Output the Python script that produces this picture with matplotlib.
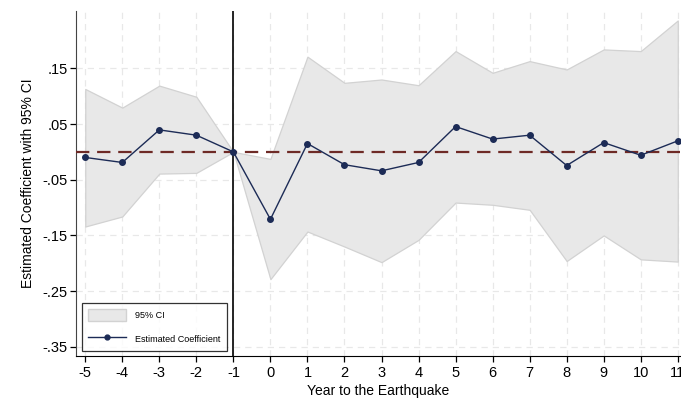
import matplotlib
matplotlib.use("Agg")
import matplotlib.pyplot as plt
from matplotlib.patches import Patch
from matplotlib.lines import Line2D

years = [-5, -4, -3, -2, -1, 0, 1, 2, 3, 4, 5, 6, 7, 8, 9, 10, 11]
coef = [-0.010, -0.019, 0.0395, 0.030, 0.0, -0.121, 0.015, -0.023, -0.034, -0.019,
        0.0455, 0.023, 0.030, -0.0245, 0.0167, -0.006, 0.0198]
ci_upper = [0.113, 0.0795, 0.119, 0.099, 0.0, -0.0126, 0.171, 0.124, 0.130, 0.1197,
            0.181, 0.142, 0.163, 0.148, 0.184, 0.181, 0.236]
ci_lower = [-0.134, -0.116, -0.039, -0.0377, 0.0, -0.2286, -0.143, -0.170, -0.198, -0.158,
            -0.091, -0.095, -0.104, -0.196, -0.150, -0.193, -0.197]
yticks = [0.15, 0.05, -0.05, -0.15, -0.25, -0.35]
ytick_labels = [".15", ".05", "-.05", "-.15", "-.25", "-.35"]

plt.rcParams['font.family'] = ['Liberation Sans', 'DejaVu Sans']
plt.rcParams['axes.unicode_minus'] = False

fig = plt.figure(figsize=(6.81, 4.03), dpi=100)
ax = fig.add_axes([76/681, 1 - 355.7/403, (680 - 76)/681, (355.7 - 11)/403])

ax.set_xlim(-5.25, 11.06)
ax.set_ylim(-0.366, 0.253)

ax.set_xticks(years)
ax.set_xticklabels([str(y) for y in years])
ax.set_yticks(yticks)
ax.set_yticklabels(ytick_labels)
ax.grid(True, color='#e8e8e8', linestyle=(0, (5, 4)), linewidth=0.9)
ax.set_axisbelow(True)

ax.fill_between(years, ci_lower, ci_upper, facecolor='#e8e8e8', edgecolor='#d2d2d2',
                linewidth=0.9, zorder=2)
ax.axhline(0, color='#6e2a26', linestyle=(0, (6, 3.5)), linewidth=1.6, zorder=3)
ax.axvline(-1, color='black', linewidth=1.2, zorder=3)
ax.plot(years, coef, color='#1c2b56', linewidth=1.0, marker='o', markersize=4,
        zorder=4)

for s in ['top', 'right']:
    ax.spines[s].set_visible(False)
ax.spines['left'].set_color('#444444')
ax.spines['bottom'].set_color('black')
ax.tick_params(axis='both', direction='out', length=4, width=0.9, labelsize=10.5,
               colors='black')
ax.tick_params(axis='y', pad=2)

ax.set_ylabel("Estimated Coefficient with 95% CI", fontsize=10, labelpad=5)
ax.set_xlabel("Year to the Earthquake", fontsize=10, labelpad=3)

handles = [Patch(facecolor='#e8e8e8', edgecolor='#d2d2d2', label='95% CI'),
           Line2D([0], [0], color='#1c2b56', linewidth=1.0, marker='o', markersize=3.5,
                  label='Estimated Coefficient')]
leg = ax.legend(handles=handles, loc='lower left', bbox_to_anchor=(0.0095, 0.014),
                fontsize=6.5, frameon=True, fancybox=False, edgecolor='black',
                borderpad=0.7, labelspacing=1.35, handlelength=4.2, handleheight=1.6,
                handletextpad=1.0, borderaxespad=0)
leg.get_frame().set_linewidth(0.9)

fig.savefig("out.png", dpi=100)
